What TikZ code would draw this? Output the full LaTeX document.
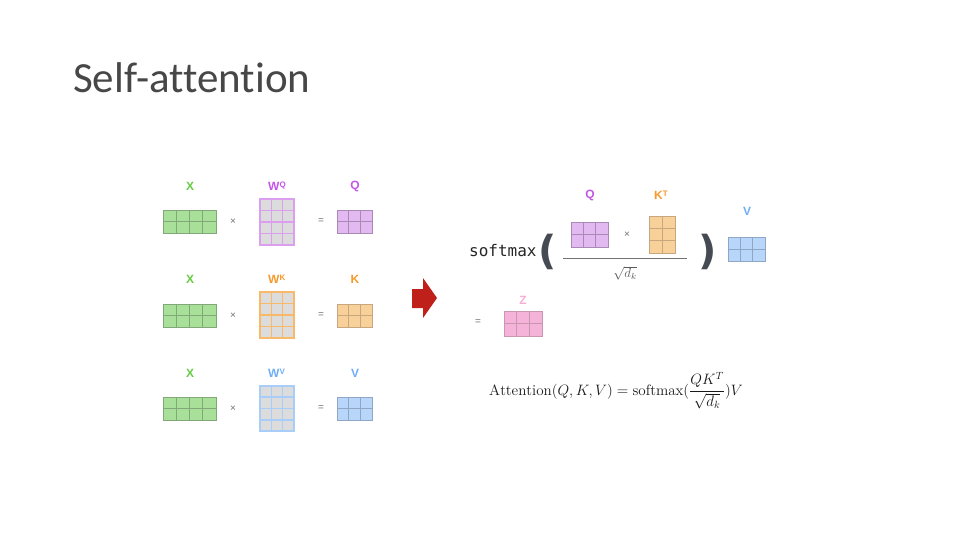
\documentclass[tikz,border=0pt]{standalone}
\usepackage{fontspec}
\usepackage{amsmath}
\usepackage{graphicx}
\usetikzlibrary{calc}
\newfontfamily\titlefont[Ligatures=NoCommon]{Carlito}
\newfontfamily\lblfont{Liberation Sans}
\newfontfamily\codefont{DejaVu Sans Mono}
\newfontfamily\parenfont{DejaVu Sans}

% matrix colours
\definecolor{fillG}{HTML}{A8E09A}\definecolor{lineG}{HTML}{82A87A}\definecolor{txtG}{HTML}{66CC44}
\definecolor{fillP}{HTML}{E3B9F1}\definecolor{lineP}{HTML}{A98AB5}\definecolor{txtP}{HTML}{C455E8}\definecolor{wP}{HTML}{DC9EEE}
\definecolor{fillO}{HTML}{F8D09A}\definecolor{lineO}{HTML}{C9A77E}\definecolor{txtO}{HTML}{F7992B}\definecolor{wO}{HTML}{F8B968}
\definecolor{fillB}{HTML}{B8D6FA}\definecolor{lineB}{HTML}{8FA6C4}\definecolor{txtB}{HTML}{6FAEF7}\definecolor{wB}{HTML}{A8CDF8}
\definecolor{fillZ}{HTML}{F6B3D9}\definecolor{lineZ}{HTML}{C796B0}\definecolor{txtZ}{HTML}{F8AED2}
\definecolor{cellgray}{HTML}{DCDCDC}
\definecolor{arrowred}{HTML}{C0201A}
\definecolor{parengray}{HTML}{464B53}

\tikzset{
  cellbox/.style={inner sep=0pt, outer sep=0pt},
  matX/.style={fill=fillG, draw=lineG, line width=0.9pt},
  matQ/.style={fill=fillP, draw=lineP, line width=0.9pt},
  matK/.style={fill=fillO, draw=lineO, line width=0.9pt},
  matV/.style={fill=fillB, draw=lineB, line width=0.9pt},
  matZ/.style={fill=fillZ, draw=lineZ, line width=0.9pt},
  wQ/.style={fill=cellgray, draw=wP, line width=1.6pt},
  wK/.style={fill=cellgray, draw=wO, line width=1.6pt},
  wV/.style={fill=cellgray, draw=wB, line width=1.6pt},
  lbl/.style={font=\lblfont\bfseries\fontsize{12}{14}\selectfont, inner sep=0pt},
  opsign/.style={text=black!55, font=\lblfont\fontsize{10}{11}\selectfont, inner sep=0pt},
  paren/.style={text=parengray, font=\parenfont\bfseries\fontsize{40}{40}\selectfont, inner sep=0pt},
}

% \gridmat{name}{x1}{y1}{x2}{y2}{columns}{rows}{style}
\newcommand\gridmat[8]{%
  \node[cellbox, #8, minimum width={((#4)-(#2))*1pt}, minimum height={((#5)-(#3))*1pt}] (#1) at ({((#2)+(#4))/2},{((#3)+(#5))/2}) {};
  \pgfmathtruncatemacro\gmcols{#6-1}%
  \pgfmathtruncatemacro\gmrows{#7-1}%
  \foreach \k in {1,...,\gmcols}{\draw[#8, fill=none] ($(#1.north west)!\k/#6!(#1.north east)$) -- ($(#1.south west)!\k/#6!(#1.south east)$);}
  \foreach \k in {1,...,\gmrows}{\draw[#8, fill=none] ($(#1.north west)!\k/#7!(#1.south west)$) -- ($(#1.north east)!\k/#7!(#1.south east)$);}
}
\newcommand\supl[2]{#1\raisebox{3.2pt}{\fontsize{8}{9}\selectfont #2}}

\begin{document}
\begin{tikzpicture}[x=1pt, y=-1pt]
\useasboundingbox[fill=white] (0,0) rectangle (960,540);

% title
\node[anchor=base west, inner sep=0pt, text=black!72, font=\titlefont\fontsize{43}{48}\selectfont] (title) at (73,93) {Self-attention};

% ---- left: X times W = Q / K / V ----
\foreach \row/\yc/\wa/\wb/\sty/\wsty/\lab/\col in {
   1/221.5/199/245/matQ/wQ/Q/txtP,
   2/315.5/292/338/matK/wK/K/txtO,
   3/408.5/386/431/matV/wV/V/txtB}{
  \gridmat{x\row}{163}{\yc-11.5}{216}{\yc+11.5}{4}{2}{matX}
  \gridmat{w\row}{260}{\wa}{294}{\wb}{3}{4}{\wsty}
  \gridmat{r\row}{337}{\yc-11.5}{372}{\yc+11.5}{3}{2}{\sty}
  \node[lbl, text=txtG] (xl\row) at (190,\wa-13) {X};
  \node[lbl, text=\col, anchor=west] (wl\row) at (268,\wa-13) {\supl{W}{\lab}};
  \node[lbl, text=\col] (rl\row) at (355,\wa-13) {\lab};
  \node[opsign] (times\row) at (233,\yc) {×};
  \node[opsign] (eq\row) at (321,\yc) {=};
}

% ---- red arrow ----
\fill[arrowred] (412,289) -- (423,289) -- (423,278) -- (437,298) -- (423,318) -- (423,308) -- (412,308) -- cycle;

% ---- right: softmax(Q K^T / sqrt(d_k)) V = Z ----
\node[anchor=base west, inner sep=0pt, text=black!85, font=\codefont\fontsize{16}{18}\selectfont] (softmax) at (469,256) {softmax};
\node[paren] (lp) at (547.5,251.5) {(};
\node[paren] (rp) at (707.5,251.5) {)};
\gridmat{sq}{571}{222}{608}{247}{3}{2}{matQ}
\gridmat{sk}{649}{216}{675}{253}{2}{3}{matK}
\gridmat{sv}{728}{237}{765}{261}{3}{2}{matV}
\node[lbl, text=txtP] (sql) at (590,195) {Q};
\node[lbl, text=txtO] (skl) at (661,195) {\supl{K}{T}};
\node[lbl, text=txtB] (svl) at (747,211) {V};
\node[opsign] (stimes) at (627,235) {×};
\coordinate (fracL) at (563,258.5);
\coordinate (fracR) at (687,258.5);
\draw[black!55, line width=0.9pt] (fracL) -- (fracR);
\node[text=black!65, inner sep=0pt] (sqrtdk) at (625,273) {\scalebox{1.1}{\fontsize{12}{14}\selectfont$\sqrt{d_k}$}};

\node[opsign] (zeq) at (478,322) {=};
\gridmat{sz}{504}{311}{542}{336}{3}{2}{matZ}
\node[lbl, text=txtZ] (szl) at (523,300) {Z};

% ---- attention formula ----
\node[anchor=base west, inner sep=0pt, text=black!90] (formula) at (489,395)
  {\scalebox{1.045}{\fontsize{14.4}{17}\selectfont$\displaystyle \mathrm{Attention}(Q,K,V) = \mathrm{softmax}(\frac{QK^T}{\sqrt{d_k}})V$}};
\end{tikzpicture}
\end{document}
